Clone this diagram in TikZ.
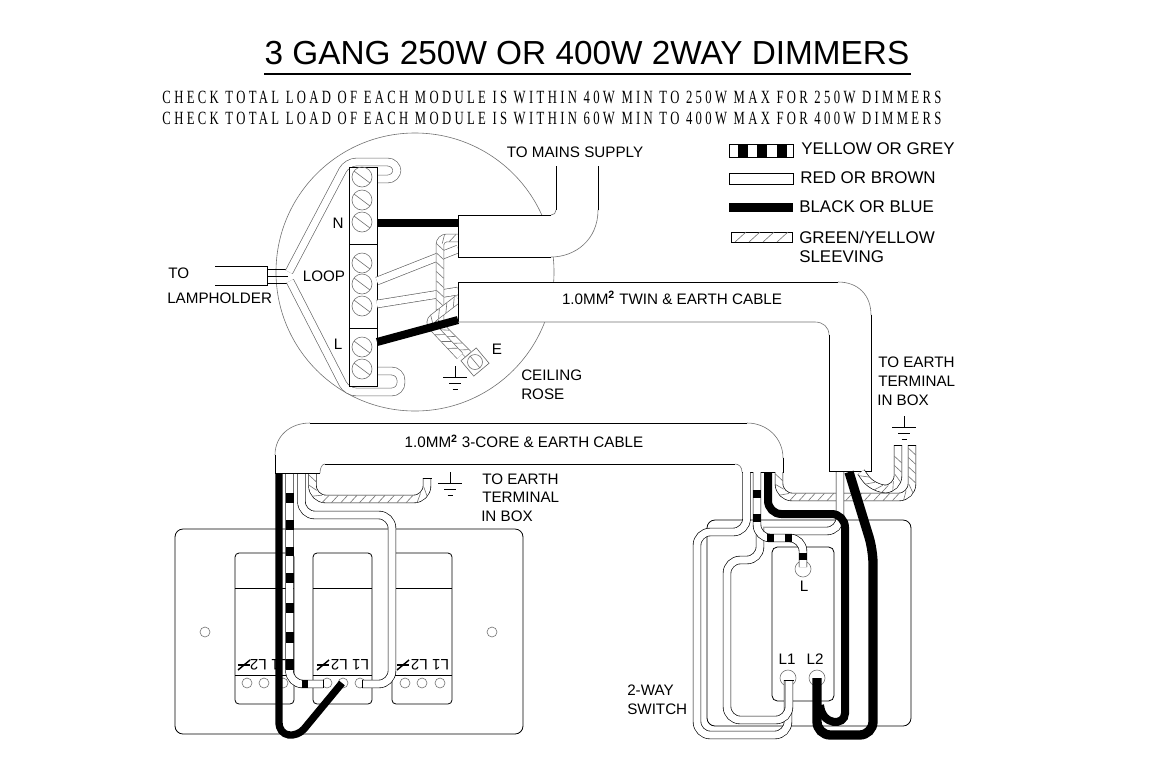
\documentclass[tikz,border=0pt]{standalone}
\usepackage{fontspec}
\setmainfont{Liberation Sans}
\newfontfamily\checkfont[FakeStretch=0.68,LetterSpace=18]{Liberation Serif}
\usetikzlibrary{decorations.markings}
\tikzset{
  lbl/.style={font=\fontsize{11.4}{13}\selectfont,inner sep=0pt,anchor=west},
  lblc/.style={font=\fontsize{11.4}{13}\selectfont,inner sep=0pt},
  lgd/.style={font=\fontsize{12.7}{14}\selectfont,inner sep=0pt,anchor=west},
  thinline/.style={draw=black!55,line width=0.45pt},
  wire/.style={draw=black,line width=0.5pt,double=white,double distance=5.3pt,rounded corners=10pt},
  blackwire/.style={draw=black,line width=6pt,rounded corners=10pt},
  sleeve/.style={wire,postaction={decorate,decoration={markings,
     mark=between positions 4pt and -4pt step 7pt with {\draw[thinline] (-2.5pt,-2.7pt) -- (2.5pt,2.7pt);}}}},
  block/.style={fill=black},
  plate/.style={draw=black,line width=0.6pt,rounded corners=6pt,fill=white},
  cable/.style={draw=black,line width=0.7pt}
}
\newcommand\G[2]{%
  \draw[line width=0.6pt] (#1,#2-11) -- (#1,#2) (#1-12,#2) -- (#1+12,#2) (#1-6,#2+6) -- (#1+6,#2+6) (#1-2.5,#2+12.5) -- (#1+2.5,#2+12.5);}
\newcommand\Dim[2]{%
  \draw[line width=1.1pt] (#1-6,#2+5) -- (#1+6,#2-5);
  \draw[line width=0.9pt] (#1-6,#2) -- (#1+6,#2);}
\begin{document}
\begin{tikzpicture}[x=0.75pt,y=-0.75pt]
\useasboundingbox[fill=white] (0,0) rectangle (1175,783);

\node[inner sep=0pt,font=\fontsize{25}{28}\selectfont] (title) at (587,53) {3 GANG 250W OR 400W 2WAY DIMMERS};
\draw[line width=0.8pt] (264,74) -- (911,74);
\node[inner sep=0pt,font=\checkfont\fontsize{14}{16}\selectfont] (checka) at (552,97) {CHECK TOTAL LOAD OF EACH MODULE IS WITHIN 40W MIN TO 250W MAX FOR 250W DIMMERS};
\node[inner sep=0pt,font=\checkfont\fontsize{14}{16}\selectfont] (checkb) at (552,118) {CHECK TOTAL LOAD OF EACH MODULE IS WITHIN 60W MIN TO 400W MAX FOR 400W DIMMERS};

% legend
\draw[line width=0.7pt] (729,144) rectangle (793,157);
\foreach \x in {738,757,777} \fill[block] (\x,144) rectangle (\x+10,157);
\draw[line width=0.7pt] (729,173) rectangle (793,184);
\fill[block] (729,203) rectangle (793,212);
\draw[line width=0.7pt] (731,232) rectangle (792,242);
\foreach \x in {735,749,763,777} \draw[thinline] (\x,242) -- (\x+11,232);
\node[lgd] (lega) at (801,149) {YELLOW OR GREY};
\node[lgd] (legb) at (800,178) {RED OR BROWN};
\node[lgd] (legc) at (799,207) {BLACK OR BLUE};
\node[lgd] (legd) at (799,237) {GREEN/YELLOW};
\node[lgd] (lege) at (799,257) {SLEEVING};

% ceiling rose
\draw[thinline] (415,272) circle (139);
\draw[line width=0.7pt] (215,266) -- (267,266) -- (267,285) -- (215,285);
\draw[line width=0.6pt] (267,269) -- (288,269) (267,276) -- (288,276) (267,283) -- (288,283);
\draw[wire,draw=black!60,rounded corners=7pt] (289,272) -- (347,162) -- (397,162) -- (397,179) -- (377,179);
\draw[wire,draw=black!60,rounded corners=7pt] (290,281) -- (347,392) -- (401,392) -- (401,371) -- (377,371);
\draw[line width=0.7pt,fill=white] (349,167) rectangle (377,386);
\draw[line width=0.7pt] (349,244) -- (377,244) (349,328) -- (377,328);
\foreach \y in {177,200,222,263,284,306,347,369} {
  \draw[thinline] (362,\y) circle (10);
  \draw[thinline] (354,\y-6) -- (370,\y+6);
}
\fill[block] (377,219) rectangle (458,227);
\draw[wire,draw=black!60] (377,281) -- (458,249);
\draw[wire,draw=black!60] (377,304) -- (458,291);
\draw[sleeve,draw=black!60,rounded corners=5pt] (458,238) -- (440,238) -- (440,326) -- (468,354);
\draw[sleeve,draw=black!60,rounded corners=5pt] (458,299) -- (428,322) -- (460,356);
\draw[line width=6pt] (377,342) -- (458,320);
\node[draw=black!60,line width=0.45pt,fill=white,minimum size=15pt,inner sep=0pt,rotate=40] (eterm) at (475,362) {};
\draw[thinline] (475,362) circle (7.5);
\draw[thinline] (470,356) -- (480,368);
\G{455}{377}

% mains cable
\fill[white] (458,215) -- (551,215) -- (556,210) -- (556,166) -- (598,166) -- (598,210) .. controls (598,240) and (575,257) .. (551,257) -- (458,257) -- cycle;
\draw[cable] (556,166) -- (556,210);
\draw[cable] (598,166) -- (598,210);
\draw[thinline] (598,210) .. controls (598,240) and (575,257) .. (551,257);
\draw[thinline] (551,215) .. controls (554,215) and (556,213) .. (556,210);
\draw[cable] (551,215) -- (458,215) -- (458,257) -- (551,257);

% twin cable
\fill[white] (458,282) -- (838,282) .. controls (858,282) and (871,295) .. (871,315) -- (871,471) -- (829,471) -- (829,335) .. controls (829,327) and (823,322) .. (815,322) -- (458,322) -- cycle;
\draw[cable] (458,322) -- (458,282) -- (838,282);
\draw[thinline] (838,282) .. controls (858,282) and (871,295) .. (871,315);
\draw[thinline] (458,322) -- (815,322) .. controls (823,322) and (829,327) .. (829,335);
\draw[cable] (871,315) -- (871,471) -- (829,471) -- (829,335);
\node[lblc] (twin) at (672,298) {1.0MM$^{\mathbf 2}$ TWIN \& EARTH CABLE};

% left plate
\draw[plate] (175,529) rectangle (523,734);
\foreach \x in {205,492} \draw[thinline] (\x,632) circle (5);
\foreach \a/\b in {235/294,313/372,392/452} {
  \draw[plate,rounded corners=3pt] (\a,553) rectangle (\b,704);
  \draw[line width=0.6pt] (\a,588) -- (\b,588) (\a,675) -- (\b,675);
}
\foreach \x in {247,264,283,327,343,360,405,422,440} \draw[thinline] (\x,683) circle (5);
\node[lblc,rotate=180] (ma) at (269,665) {L1 L2};
\node[lblc,rotate=180] (mb) at (350,665) {L1 L2};
\node[lblc,rotate=180] (mc) at (430,665) {L1 L2};
\Dim{244}{665}
\Dim{323}{665}
\Dim{403}{665}

% left wiring
\draw[sleeve] (312.5,473) -- (312.5,499) -- (427,499) -- (427,478);
\draw[line width=0.6pt] (422.5,478) -- (431.5,478);
\draw[wire] (301.5,473) -- (301.5,515) -- (392,515) -- (392,684) -- (362,684);
\draw[line width=0.6pt] (362,680) -- (362,688);
\draw[wire] (289.5,473) -- (289.5,684) -- (323,684);
\draw[line width=0.6pt] (323,680) -- (323,688);
\foreach \a/\b in {493/503,520/530,547/556,573/583,603/613,632/643,659/670} \fill[block] (285.5,\a) rectangle (293.5,\b);
\fill[block] (302,680) rectangle (308,688);
\draw[line width=5.5pt] (279,473) -- (279,722) .. controls (279,738) and (296,738) .. (304,729) -- (342,683);
\G{450}{483}

% 3-core cable
\fill[white] (275,473) -- (275,455) .. controls (275,436) and (290,423) .. (310,423) -- (747,423) .. controls (767,423) and (783,438) .. (783,458) -- (783,472) -- (742,472) .. controls (742,467) and (739,464) .. (735,464) -- (325,464) .. controls (322,464) and (320,468) .. (320,473) -- cycle;
\draw[cable] (310,423) -- (747,423);
\draw[thinline] (275,455) .. controls (275,436) and (290,423) .. (310,423);
\draw[thinline] (747,423) .. controls (767,423) and (783,438) .. (783,458);
\draw[cable] (325,464) -- (735,464);
\draw[thinline] (735,464) .. controls (739,464) and (742,467) .. (742,472);
\draw[thinline] (325,464) .. controls (322,464) and (320,468) .. (320,473);
\draw[cable] (275,455) -- (275,473) -- (320,473);
\draw[cable] (783,458) -- (783,472) -- (742,472);
\node[lblc] (threecore) at (524,441) {1.0MM$^{\mathbf 2}$ 3-CORE \& EARTH CABLE};

% right plate
\draw[plate] (707,520) rectangle (911,726);
\draw[plate,rounded corners=4pt] (772,547) rectangle (834,701);
\draw[thinline] (803,569) circle (8);
\draw[thinline] (788,678) circle (8);
\draw[thinline] (817,678) circle (8);
\node[lblc] (lswitch) at (804,586) {L};
\node[lblc] (lone) at (787,659) {L1};
\node[lblc] (ltwo) at (815,659) {L2};

% right wiring
\draw[sleeve] (779,472) -- (779,497) -- (912,497) -- (912,445);
\draw[sleeve] (861,472) -- (873,489) -- (898,489) -- (898,445);
\draw[line width=0.6pt] (894,445) -- (902,445) (908,445) -- (916,445);
\draw[wire] (840,472) -- (840,531) -- (763,531);
\draw[wire] (746.5,472) -- (746.5,532) -- (697,532) -- (697,735) -- (788,735) -- (788,680);
\draw[wire] (760,528) -- (760,560) -- (727,560) -- (727,720) -- (789,720) -- (789,680);
\draw[line width=0.6pt] (784,680) -- (794,680);
\draw[wire] (757,472) -- (757,538) -- (803,538) -- (803,567);
\foreach \a/\b in {490/498,514/522} \fill[block] (753,\a) rectangle (761,\b);
\fill[block] (767,534) rectangle (774,542);
\fill[block] (785,534) rectangle (792,542);
\fill[block] (799,553) rectangle (807,560);
\draw[blackwire] (768,472) -- (768,514) -- (845,514) -- (845,700) .. controls (845,726) and (822,726) .. (820,705);
\draw[blackwire,line width=7pt] (849,472) -- (873,550) -- (873,735) -- (817,735) -- (817,678);

\G{904}{427}

% labels
\node[lblc] (mains) at (575,152) {TO MAINS SUPPLY};
\node[lbl] (toa) at (168,273) {TO};
\node[lbl] (lamp) at (167,298) {LAMPHOLDER};
\node[lblc] (nlbl) at (338,223) {N};
\node[lblc] (looplbl) at (324,276) {LOOP};
\node[lblc] (llbl) at (338,344) {L};
\node[lblc] (elbl) at (497,349) {E};
\node[lbl] (rosea) at (521,375) {CEILING};
\node[lbl] (roseb) at (521,394) {ROSE};
\node[lbl] (eartha) at (878,362) {TO EARTH};
\node[lbl] (earthb) at (878,381) {TERMINAL};
\node[lbl] (earthc) at (877,400) {IN BOX};
\node[lbl] (earthd) at (482,479) {TO EARTH};
\node[lbl] (earthe) at (482,497) {TERMINAL};
\node[lbl] (earthf) at (481,516) {IN BOX};
\node[lbl] (swa) at (627,690) {2-WAY};
\node[lbl] (swb) at (627,709) {SWITCH};
\end{tikzpicture}
\end{document}
